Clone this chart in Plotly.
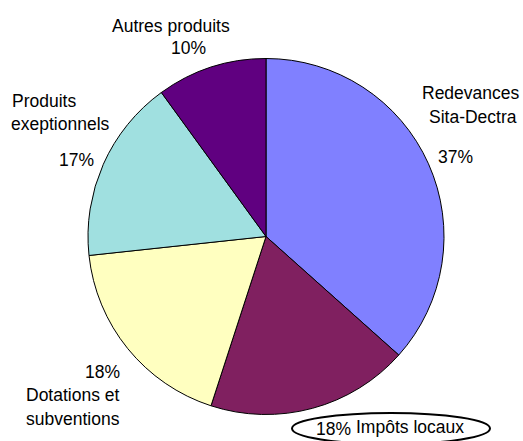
import plotly.graph_objects as go

labels = ["Redevances Sita-Dectra", "Impôts locaux", "Dotations et subventions",
          "Produits exeptionnels", "Autres produits"]
label_lines = [["Redevances", "Sita-Dectra"], ["Impôts locaux"], ["Dotations et", "subventions"],
               ["Produits", "exeptionnels"], ["Autres produits"]]
values = [36.6, 18.4, 18.3, 16.7, 10.0]
colors = ["#8080FF", "#802060", "#FFFFC0", "#A0E0E0", "#600080"]

W, H = 523, 441
total = sum(values)
pct = [f"{round(v / total * 100)}%" for v in values]

fig = go.Figure(go.Pie(
    labels=labels, values=values, sort=False, direction="clockwise", rotation=0,
    marker=dict(colors=colors, line=dict(color="black", width=1)),
    textinfo="none", hoverinfo="label+percent", showlegend=False,
    domain=dict(x=[88 / W, 444 / W], y=[(H - 415) / H, (H - 58) / H]),
))

FONT = dict(family="Liberation Sans, Arial, sans-serif", size=17.5, color="black")

def px(x, y):
    return x / W, (H - y) / H

ann = []
def add(text, x, y, xanchor="center"):
    ax, ay = px(x, y + 1.5)
    ann.append(dict(text=text, x=ax, y=ay, xref="paper", yref="paper", xanchor=xanchor,
                    yanchor="middle", showarrow=False, font=FONT))

# Redevances
add(label_lines[0][0], 471, 92)
add(label_lines[0][1], 472.5, 115)
add(pct[0], 455.5, 155)
# Impôts locaux
add(pct[1], 333.5, 427.5)
add(label_lines[1][0], 410, 425)
# Dotations
add(pct[2], 122, 370, "right")
add(label_lines[2][0], 122, 393, "right")
add(label_lines[2][1], 122, 417, "right")
# Produits exeptionnels
add(label_lines[3][0], 10, 100, "left")
add(label_lines[3][1], 9, 122, "left")
add(pct[3], 76.5, 158)
# Autres produits
add(label_lines[4][0], 171, 25)
add(pct[4], 188, 46)

x0, y1 = px(292, 413)
x1, y0 = px(490, 444)
shapes = [dict(type="circle", xref="paper", yref="paper", x0=x0, x1=x1, y0=y0, y1=y1,
               line=dict(color="black", width=2))]

fig.update_layout(width=W, height=H, margin=dict(l=0, r=0, t=0, b=0),
                  paper_bgcolor="white", plot_bgcolor="white",
                  annotations=ann, shapes=shapes)

fig.write_html("out.html", config={"displayModeBar": False},
               post_script="document.body.style.margin='0px';")
